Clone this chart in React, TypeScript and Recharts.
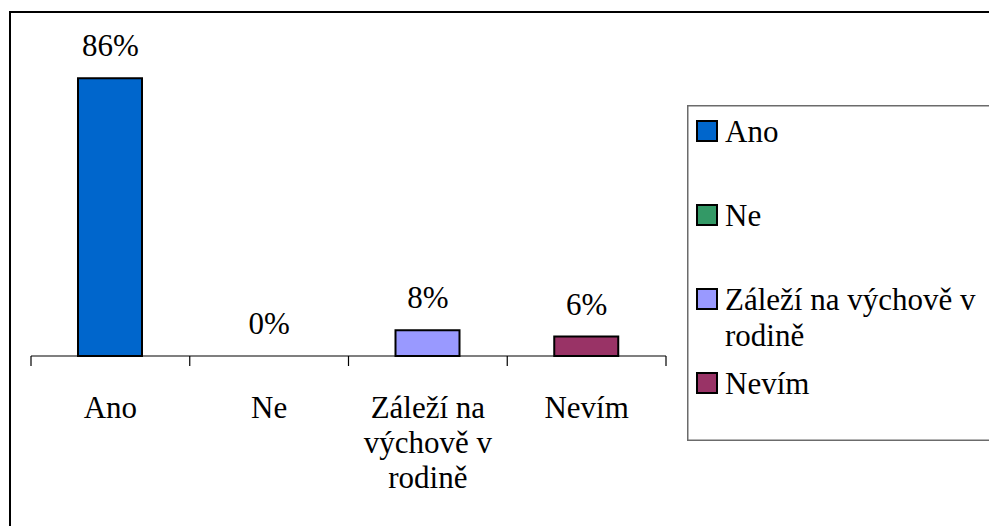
import React from "react";
import { ComposedChart, Bar, Scatter, XAxis, YAxis, Cell } from "recharts";

const categories = ["Ano", "Ne", "Záleží na výchově v rodině", "Nevím"];
const values = [86, 0, 8, 6];
const valueLabels = ["86%", "0%", "8%", "6%"];
const tickLines = [["Ano"], ["Ne"], ["Záleží na", "výchově v", "rodině"], ["Nevím"]];
const legendLines = [["Ano"], ["Ne"], ["Záleží na výchově v", "rodině"], ["Nevím"]];
const colors = ["#0066CC", "#339966", "#9999FF", "#993366"];

const W = 989;
const H = 526;
const MARGIN = { top: 33, right: 323, bottom: 140, left: 31 };
const XAXIS_H = 30;
const AXIS_Y = H - MARGIN.bottom - XAXIS_H;
const BAND = (W - MARGIN.left - MARGIN.right) / categories.length;
const FONT = "'Liberation Serif', 'Times New Roman', serif";
const FS = 31;

const data = categories.map((c, i) => ({ name: c, value: values[i], label: valueLabels[i] }));

const Tick = (props: any) => {
  const { x, index } = props;
  const lines = tickLines[index] || [];
  const left = x - BAND / 2;
  const right = x + BAND / 2;
  return (
    <g>
      <line x1={left} x2={left} y1={AXIS_Y} y2={AXIS_Y + 10} stroke="#000" strokeWidth={1.2} />
      {index === categories.length - 1 && (
        <line x1={right} x2={right} y1={AXIS_Y} y2={AXIS_Y + 10} stroke="#000" strokeWidth={1.2} />
      )}
      {lines.map((l, k) => (
        <text key={k} x={x} y={AXIS_Y + 62 + k * 35} textAnchor="middle" style={{ fontFamily: FONT, fontSize: FS }} fill="#000">
          {l}
        </text>
      ))}
    </g>
  );
};

const LabelShape = (props: any) => {
  const { cx, cy, payload } = props;
  return (
    <text x={cx} y={cy - 22} textAnchor="middle" style={{ fontFamily: FONT, fontSize: FS }} fill="#000">
      {payload.label}
    </text>
  );
};

const LegendBox = () => (
  <svg width={310} height={340} style={{ position: "absolute", left: 687, top: 105, display: "block", overflow: "visible" }}>
    <rect x={0.75} y={0.75} width={340} height={334.5} fill="#fff" stroke="#6b6b6b" strokeWidth={1.5} />
    {categories.map((c, i) => (
      <g key={c}>
        <rect x={10} y={16 + i * 84} width={20} height={20} fill={colors[i]} stroke="#000" strokeWidth={2} />
        {legendLines[i].map((l, k) => (
          <text key={k} x={38} y={37 + i * 84 + k * 36} style={{ fontFamily: FONT, fontSize: FS }} fill="#000">
            {l}
          </text>
        ))}
      </g>
    ))}
  </svg>
);

export default function App() {
  return (
    <div style={{ position: "absolute", left: 0, top: 0, width: W, height: H, overflow: "hidden", background: "#fff" }}>
      <div style={{ position: "absolute", left: 9, top: 11, width: 1100, height: 700, border: "2px solid #000", boxSizing: "border-box" }} />
      <div style={{ position: "absolute", left: 0, top: 0 }}>
        <ComposedChart width={W} height={H} data={data} margin={MARGIN} barSize={64}>
          <YAxis hide domain={[0, 100]} />
          <XAxis
            dataKey="name"
            height={XAXIS_H}
            axisLine={{ stroke: "#000", strokeWidth: 1.2 }}
            tickLine={false}
            tick={<Tick />}
            interval={0}
          />
          <Bar dataKey="value" isAnimationActive={false} stroke="#000" strokeWidth={2}>
            {data.map((d, i) => (
              <Cell key={d.name} fill={colors[i]} />
            ))}
          </Bar>
          <Scatter dataKey="value" isAnimationActive={false} shape={<LabelShape />} />
        </ComposedChart>
      </div>
      <LegendBox />
    </div>
  );
}
